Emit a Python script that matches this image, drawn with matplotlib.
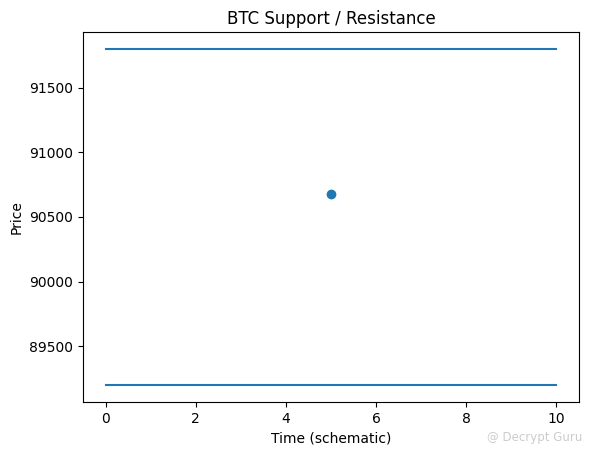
import matplotlib
matplotlib.use("Agg")
import matplotlib.pyplot as plt

x_range = [0, 10]
resistance = 91800
support = 89200
current_time = 5
current_price = 90680

fig = plt.figure(figsize=(5.89, 4.55), dpi=100)
ax = fig.add_axes([83/589, 1 - 402/455, (579-83)/589, (402-32)/455])
ax.plot(x_range, [resistance, resistance])
ax.plot(x_range, [support, support], color="C0")
ax.scatter([current_time], [current_price], color="C0")
ax.set_title("BTC Support / Resistance")
ax.set_xlabel("Time (schematic)")
ax.set_ylabel("Price")
fig.text(582/589, 1 - 438/455, "@ Decrypt Guru", ha="right", va="center", color="#cccccc", fontsize=8.5)
fig.savefig("out.png", dpi=100)
